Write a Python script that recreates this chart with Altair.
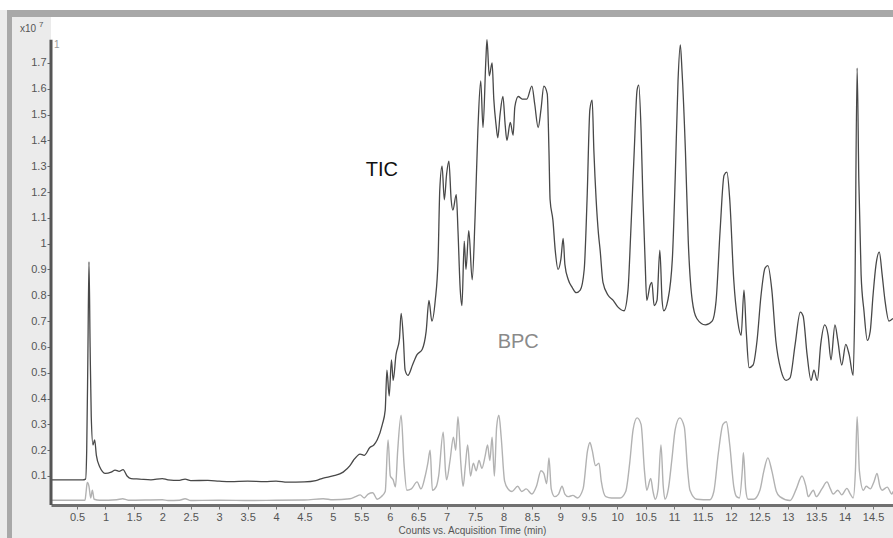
import altair as alt
import pandas as pd

# ---------------- data ----------------
tic_time = [0.04, 0.3, 0.6, 0.65, 0.67, 0.69, 0.71, 0.73, 0.75, 0.78, 0.81, 0.84, 0.9, 1.0, 1.1,
            1.17, 1.24, 1.31, 1.38, 1.45, 1.6, 1.8, 2.0, 2.1, 2.3, 2.4, 2.5, 2.8, 3.0, 3.2, 3.5,
            3.8, 4.0, 4.2, 4.5, 4.7, 4.83, 5.0, 5.18, 5.3, 5.36, 5.48, 5.55, 5.65, 5.72, 5.78,
            5.87, 5.92, 5.95, 5.99, 6.03, 6.06, 6.11, 6.17, 6.2, 6.24, 6.27, 6.32, 6.4, 6.48,
            6.57, 6.64, 6.69, 6.74, 6.8, 6.85, 6.88, 6.92, 6.96, 7.0, 7.04, 7.08, 7.11, 7.17,
            7.2, 7.24, 7.27, 7.31, 7.34, 7.39, 7.45, 7.5, 7.55, 7.6, 7.64, 7.69, 7.71, 7.75,
            7.8, 7.83, 7.87, 7.9, 7.94, 7.99, 8.03, 8.06, 8.12, 8.17, 8.2, 8.26, 8.33, 8.41,
            8.5, 8.55, 8.61, 8.66, 8.71, 8.77, 8.8, 8.82, 8.87, 8.91, 8.96, 9.01, 9.05, 9.08,
            9.14, 9.21, 9.28, 9.35, 9.42, 9.47, 9.52, 9.56, 9.59, 9.63, 9.67, 9.7, 9.75, 9.84,
            9.93, 10.01, 10.12, 10.19, 10.24, 10.3, 10.35, 10.38, 10.42, 10.45, 10.49, 10.52,
            10.58, 10.61, 10.65, 10.7, 10.75, 10.79, 10.82, 10.89, 10.97, 11.02, 11.07, 11.11,
            11.14, 11.2, 11.25, 11.32, 11.4, 11.55, 11.67, 11.74, 11.81, 11.88, 11.93, 11.98,
            12.05, 12.12, 12.18, 12.23, 12.27, 12.32, 12.39, 12.46, 12.53, 12.6, 12.65, 12.72,
            12.79, 12.88, 12.97, 13.04, 13.13, 13.22, 13.27, 13.34, 13.41, 13.46, 13.52, 13.58,
            13.65, 13.71, 13.76, 13.83, 13.88, 13.95, 14.02, 14.08, 14.15, 14.18, 14.22, 14.25,
            14.29, 14.34, 14.4, 14.45, 14.5, 14.55, 14.61, 14.66, 14.71, 14.78, 14.85]
tic_value = [0.085, 0.085, 0.085, 0.088, 0.2, 0.55, 0.93, 0.6, 0.33, 0.22, 0.24, 0.18, 0.135, 0.11, 0.115,
             0.123, 0.118, 0.125, 0.1, 0.09, 0.088, 0.085, 0.09, 0.085, 0.083, 0.088, 0.082, 0.083, 0.08, 0.078, 0.08,
             0.078, 0.08, 0.076, 0.077, 0.082, 0.092, 0.1, 0.115, 0.14, 0.16, 0.185, 0.18, 0.21, 0.22, 0.24,
             0.3, 0.355, 0.51, 0.41, 0.55, 0.47, 0.57, 0.63, 0.73, 0.63, 0.51, 0.49, 0.53, 0.57,
             0.59, 0.66, 0.78, 0.70, 0.78, 0.94, 1.21, 1.30, 1.17, 1.27, 1.32, 1.17, 1.13, 1.19,
             1.05, 0.82, 0.76, 1.01, 0.90, 1.05, 0.86, 1.10, 1.44, 1.63, 1.45, 1.71, 1.79, 1.65,
             1.70, 1.56, 1.46, 1.41, 1.50, 1.57, 1.46, 1.40, 1.47, 1.42, 1.53, 1.57, 1.56, 1.56,
             1.61, 1.54, 1.45, 1.52, 1.61, 1.58, 1.36, 1.17, 1.09, 0.975, 0.90, 0.94, 1.02, 0.92,
             0.86, 0.83, 0.81, 0.82, 0.90, 1.17, 1.52, 1.556, 1.36, 1.17, 1.04, 0.975, 0.85, 0.80,
             0.78, 0.755, 0.74, 0.82, 1.05, 1.36, 1.595, 1.614, 1.44, 1.195, 0.94, 0.78,
             0.84, 0.85, 0.76, 0.78, 0.975, 0.78, 0.74, 0.78, 0.94, 1.25, 1.63, 1.77,
             1.67, 1.36, 1.01, 0.78, 0.71, 0.685, 0.70, 0.78, 1.05, 1.265, 1.277, 1.17,
             0.86, 0.70, 0.645, 0.82, 0.66, 0.52, 0.53, 0.625, 0.80, 0.905, 0.915, 0.82,
             0.625, 0.51, 0.47, 0.48, 0.61, 0.735, 0.72, 0.57, 0.47, 0.51, 0.47, 0.61,
             0.685, 0.645, 0.55, 0.685, 0.625, 0.53, 0.61, 0.57, 0.49, 0.78, 1.68, 1.245,
             0.88, 0.74, 0.625, 0.66, 0.80, 0.915, 0.967, 0.88, 0.78, 0.70, 0.71]

bpc_time = [0.04, 0.64, 0.66, 0.68, 0.71, 0.74, 0.77, 0.8, 0.9, 1.2, 1.3, 1.4, 2.0, 2.1, 2.3, 2.4, 2.5,
            3.0, 3.5, 4.0, 4.5, 4.83, 5.0, 5.3, 5.4, 5.48, 5.55, 5.62, 5.7, 5.78, 5.85, 5.92, 5.97,
            6.01, 6.06, 6.1, 6.14, 6.2, 6.25, 6.3, 6.38, 6.48, 6.55, 6.62, 6.67, 6.71, 6.75, 6.82,
            6.86, 6.94, 6.98, 7.0, 7.06, 7.12, 7.16, 7.2, 7.25, 7.29, 7.33, 7.37, 7.42, 7.47, 7.52,
            7.57, 7.62, 7.68, 7.72, 7.76, 7.8, 7.84, 7.88, 7.92, 7.96, 8.02, 8.08, 8.15, 8.25, 8.32,
            8.4, 8.5, 8.58, 8.66, 8.71, 8.76, 8.8, 8.84, 8.9, 8.97, 9.03, 9.08, 9.14, 9.22, 9.3, 9.4,
            9.48, 9.52, 9.56, 9.62, 9.68, 9.72, 9.8, 9.9, 10.05, 10.15, 10.22, 10.28, 10.35, 10.42,
            10.48, 10.52, 10.59, 10.63, 10.67, 10.72, 10.77, 10.81, 10.84, 10.9, 10.96, 11.02, 11.1,
            11.18, 11.24, 11.28, 11.4, 11.63, 11.7, 11.78, 11.86, 11.92, 11.98, 12.05, 12.1, 12.15,
            12.2, 12.22, 12.26, 12.3, 12.4, 12.51, 12.58, 12.65, 12.72, 12.8, 12.86, 13.04, 13.15,
            13.25, 13.32, 13.36, 13.45, 13.5, 13.6, 13.69, 13.75, 13.8, 13.88, 13.95, 14.04, 14.1,
            14.15, 14.19, 14.22, 14.26, 14.33, 14.38, 14.45, 14.52, 14.57, 14.62, 14.66, 14.75,
            14.83, 14.85]
bpc_value = [0.006, 0.006, 0.04, 0.075, 0.06, 0.015, 0.045, 0.01, 0.006, 0.008, 0.012, 0.006, 0.008, 0.005, 0.006, 0.012, 0.005,
             0.006, 0.005, 0.006, 0.007, 0.012, 0.008, 0.012, 0.02, 0.027, 0.015, 0.03, 0.035, 0.01, 0.02, 0.04, 0.24,
             0.1, 0.085, 0.058, 0.2, 0.335, 0.15, 0.045, 0.05, 0.077, 0.05, 0.097, 0.15, 0.2, 0.045, 0.06,
             0.1, 0.27, 0.12, 0.085, 0.16, 0.25, 0.2, 0.33, 0.15, 0.06, 0.14, 0.22, 0.1, 0.15, 0.12,
             0.16, 0.13, 0.18, 0.22, 0.16, 0.25, 0.1, 0.29, 0.335, 0.25, 0.08, 0.05, 0.04, 0.06, 0.04,
             0.05, 0.03, 0.06, 0.12, 0.11, 0.07, 0.17, 0.05, 0.02, 0.03, 0.06, 0.03, 0.02, 0.025, 0.015, 0.05,
             0.2, 0.23, 0.2, 0.14, 0.15, 0.08, 0.02, 0.015, 0.015, 0.04, 0.15, 0.28, 0.325, 0.3,
             0.12, 0.045, 0.09, 0.04, 0.01, 0.05, 0.22, 0.06, 0.01, 0.05, 0.16, 0.28, 0.325,
             0.29, 0.12, 0.045, 0.01, 0.008, 0.04, 0.19, 0.3, 0.31, 0.22, 0.06, 0.02, 0.015,
             0.12, 0.19, 0.05, 0.01, 0.01, 0.045, 0.12, 0.17, 0.12, 0.04, 0.02, 0.005, 0.05,
             0.10, 0.06, 0.02, 0.045, 0.02, 0.05, 0.077, 0.05, 0.03, 0.045, 0.027, 0.052, 0.03,
             0.015, 0.12, 0.33, 0.12, 0.045, 0.06, 0.05, 0.08, 0.11, 0.06, 0.045, 0.057,
             0.03, 0.04]

x_tick_values = [0.5 * i for i in range(1, 30)]
y_tick_values = [round(0.1 * i, 1) for i in range(1, 18)]
x_domain = [0.042, 14.851]
y_domain = [-0.0124, 1.878]

label_names = ["TIC", "BPC"]
label_time = [5.86, 8.26]
label_value = [1.285, 0.62]
label_colors = ["#111111", "#8a8a8a"]

FONT = "Liberation Sans Narrow, Liberation Sans, Arial, sans-serif"

tic_df = pd.DataFrame({"t": tic_time, "v": tic_value})
bpc_df = pd.DataFrame({"t": bpc_time, "v": bpc_value})
lab_df = pd.DataFrame({"name": label_names, "t": label_time, "v": label_value, "c": label_colors})
one = pd.DataFrame({"k": [0]})

xscale = alt.Scale(domain=x_domain, nice=False, zero=False)
yscale = alt.Scale(domain=y_domain, nice=False, zero=False)

x_axis = alt.Axis(values=x_tick_values, format="~g", title="Counts vs. Acquisition Time (min)",
                  titleFont=FONT, titleFontSize=10, titleFontWeight="normal", titleColor="#555555",
                  titlePadding=3, labelFont=FONT, labelFontSize=11, labelColor="#555555",
                  labelPadding=2, labelFlush=False, labelOverlap=False, labelBound=False,
                  tickColor="#777777", tickSize=4, tickWidth=1,
                  domainColor="#707070", domainWidth=3, grid=False)
y_axis = alt.Axis(values=y_tick_values, format="~g", title=None, domain=False,
                  labelFont=FONT, labelFontSize=11, labelColor="#555555", labelPadding=1,
                  labelOverlap=False, labelBound=False,
                  tickColor="#666666", tickSize=4, grid=False)

tic_line = alt.Chart(tic_df).mark_line(color="#484848", strokeWidth=1.3, interpolate="monotone").encode(
    x=alt.X("t:Q", scale=xscale, axis=x_axis),
    y=alt.Y("v:Q", scale=yscale, axis=y_axis),
)
bpc_line = alt.Chart(bpc_df).mark_line(color="#b2b2b2", strokeWidth=1.4, interpolate="monotone").encode(
    x=alt.X("t:Q", scale=xscale, axis=x_axis),
    y=alt.Y("v:Q", scale=yscale, axis=y_axis),
)

labels = alt.Chart(lab_df).mark_text(font=FONT, fontSize=20, align="center", baseline="middle").encode(
    x=alt.X("t:Q", scale=xscale, axis=x_axis),
    y=alt.Y("v:Q", scale=yscale, axis=y_axis),
    text="name:N",
    color=alt.Color("c:N", scale=None, legend=None),
)

y_rule = alt.Chart(one).mark_rule(color="#555555", strokeWidth=3).encode(
    x=alt.value(0),
    y=alt.datum(-0.0124, scale=yscale, axis=y_axis),
    y2=alt.datum(1.79),
)

# frame decoration (outside the plot area)
top_white = alt.Chart(one).mark_rect(color="white").encode(
    x=alt.value(-51), x2=alt.value(842), y=alt.value(-17), y2=alt.value(-7))
top_band = alt.Chart(one).mark_rect(color="#a8a8a8").encode(
    x=alt.value(-44), x2=alt.value(842), y=alt.value(-7), y2=alt.value(0))
left_band = alt.Chart(one).mark_rect(color="#a8a8a8").encode(
    x=alt.value(-44), x2=alt.value(-39), y=alt.value(-7), y2=alt.value(521))

exp_text = alt.Chart(one).mark_text(font=FONT, fontSize=10, color="#555555", align="left",
                                    baseline="middle").encode(
    x=alt.value(-31), y=alt.value(12), text=alt.value("x10"))
exp_sup = alt.Chart(one).mark_text(font=FONT, fontSize=8, color="#555555", align="left",
                                   baseline="middle").encode(
    x=alt.value(-12), y=alt.value(8), text=alt.value("7"))
one_text = alt.Chart(one).mark_text(font=FONT, fontSize=10, color="#9a9a9a", align="left",
                                    baseline="middle").encode(
    x=alt.value(3), y=alt.value(28), text=alt.value("1"))

chart = alt.layer(
    top_white, top_band, left_band, bpc_line, tic_line, y_rule, labels, exp_text, exp_sup, one_text
).properties(
    width=842, height=488,
    autosize=alt.AutoSizeParams(type="none"),
    padding={"left": 51, "top": 17, "right": 0, "bottom": 33},
    background="#ebebeb",
).configure_view(
    fill="white", stroke=None
).configure_axis(
    labelOverlap=False, labelBound=False
)

chart.save("out.html", embed_options={"renderer": "svg", "actions": False})
